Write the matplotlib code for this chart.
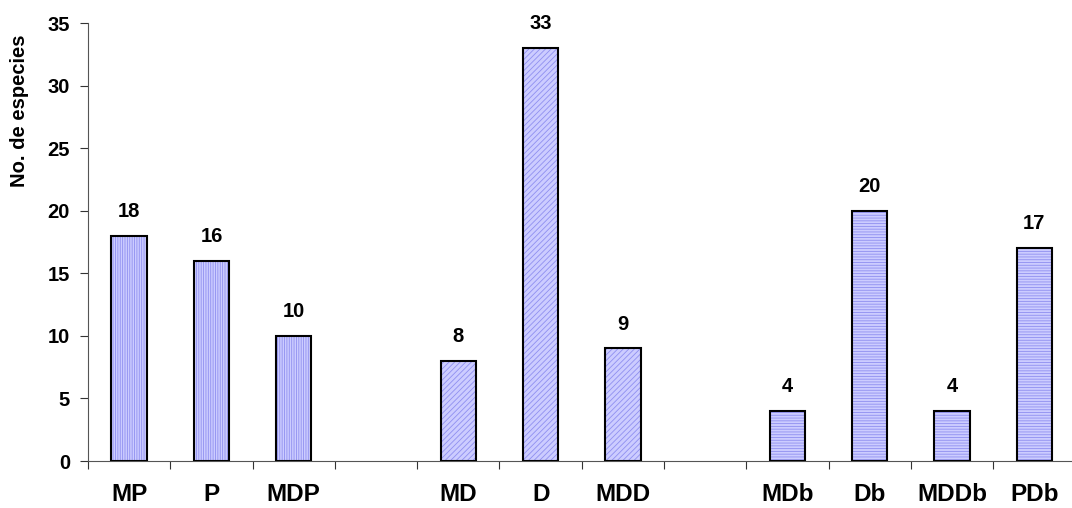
import numpy as np
import matplotlib.pyplot as plt

plt.rcParams['font.family'] = ['Liberation Sans', 'DejaVu Sans']
plt.rcParams['hatch.linewidth'] = 0.6

# especies por grupo (posiciones vacias separan los grupos)
grupo1 = ["MP", "P", "MDP"]
valores1 = [18, 16, 10]
grupo2 = ["MD", "D", "MDD"]
valores2 = [8, 33, 9]
grupo3 = ["MDb", "Db", "MDDb", "PDb"]
valores3 = [4, 20, 4, 17]

etiquetas = grupo1 + [""] + grupo2 + [""] + grupo3

fig = plt.figure(figsize=(10.72, 5.08), dpi=100)
ax = fig.add_axes([0.0821, 0.0925, 0.9212, 0.8622])

pos1 = np.arange(0, 3)
pos2 = np.arange(4, 7)
pos3 = np.arange(8, 12)

ancho = 0.43
relleno = "#ccccff"
lineas = "#8f8ff0"
for pos, vals, trama in [(pos1, valores1, "|||||||"),
                         (pos2, valores2, "//////"),
                         (pos3, valores3, "------")]:
    barras = ax.bar(pos, vals, width=ancho, color=relleno, edgecolor="black",
                    linewidth=1.5, hatch=trama, zorder=3)
    for b in barras:
        b._hatch_color = plt.matplotlib.colors.to_rgba(lineas)
    for x, v in zip(pos, vals):
        ax.text(x, v + 1.5, str(v), ha="center", va="baseline",
                fontsize=14.5, fontweight="bold")

ax.set_xlim(-0.5, 11.5)
ax.set_ylim(0, 35)
ax.set_yticks(range(0, 36, 5))
ax.set_yticklabels([str(t) for t in range(0, 36, 5)], fontsize=14.5, fontweight="bold")

ax.set_xticks(np.arange(-0.5, 11.5, 1))
ax.set_xticklabels([])
ax.set_xticks(np.arange(0, 12), minor=True)
ax.set_xticklabels(etiquetas, minor=True, fontsize=17.5, fontweight="bold")
ax.tick_params(axis="x", which="minor", length=0, pad=16)
ax.tick_params(axis="x", which="major", length=6, direction="out", color="#333333")
ax.tick_params(axis="y", length=6, direction="out", color="#333333", pad=7)

ax.spines["top"].set_visible(False)
ax.spines["right"].set_visible(False)
ax.spines["left"].set_color("#555555")
ax.spines["bottom"].set_color("#555555")

ax.set_ylabel("No. de especies", fontsize=14.5, fontweight="bold")
ax.yaxis.set_label_coords(-0.060, 0.80)

fig.savefig("out.png", dpi=100)
